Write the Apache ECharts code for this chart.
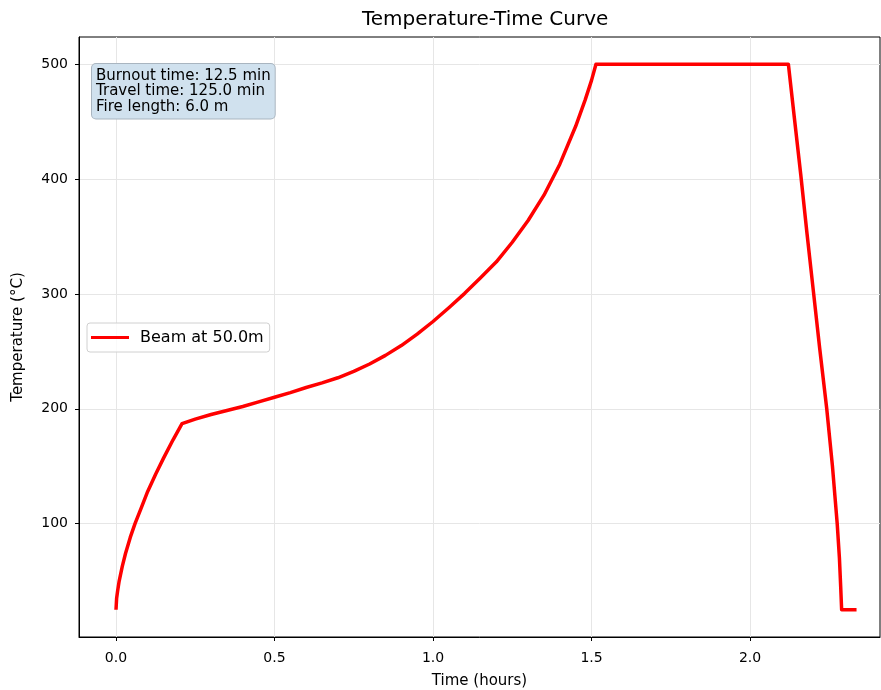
<!DOCTYPE html>
<html>
<head>
<meta charset="utf-8">
<script src="https://cdn.jsdelivr.net/npm/echarts@6/dist/echarts.min.js"></script>
<style>
  html, body { margin: 0; padding: 0; background: #fff; }
  #chart { width: 881px; height: 690px; }
</style>
</head>
<body>
<div id="chart"></div>
<script>
// values
const timeHours = [
  0, 0.002, 0.005, 0.01, 0.02, 0.03, 0.045, 0.06, 0.08, 0.1, 0.125, 0.15, 0.18, 0.2083,
  0.25, 0.3, 0.35, 0.4, 0.45, 0.5, 0.55, 0.6, 0.65, 0.7, 0.75, 0.8, 0.85, 0.9, 0.95,
  1.0, 1.05, 1.1, 1.15, 1.2, 1.25, 1.3, 1.35, 1.4, 1.45, 1.48, 1.5, 1.514,
  2.121, 2.14, 2.16, 2.18, 2.2, 2.22, 2.242, 2.26, 2.275, 2.282, 2.286, 2.289, 2.336
];
const tempC = [
  25, 35, 41, 50, 63, 74, 88, 100, 114, 128, 143, 157, 173, 187,
  191, 195, 198.5, 202, 206, 210, 214, 218.5, 222.5, 227, 232.5, 239, 246.5, 255, 265,
  276, 288, 300.5, 314, 328, 345, 364, 386, 413, 446, 469, 486, 500,
  500, 453, 404, 352, 302, 252, 200, 150, 100, 70, 45, 25, 25
];
const xTicks = [0, 0.5, 1.0, 1.5, 2.0];
const yTicks = [100, 200, 300, 400, 500];
const infoLines = [
  'Burnout time: 12.5 min',
  'Travel time: 125.0 min',
  'Fire length: 6.0 m'
];
const seriesName = 'Beam at 50.0m';

const font = 'DejaVu Sans';
const chart = echarts.init(document.getElementById('chart'), null, { renderer: 'canvas' });

const option = {
  backgroundColor: '#fff',
  animation: false,
  title: {
    text: 'Temperature-Time Curve',
    left: 362,
    top: 10,
    padding: 0,
    textStyle: { fontFamily: font, fontSize: 20, fontWeight: 'normal', color: '#000' }
  },
  grid: {
    left: 79, right: 1, top: 37, bottom: 53,
    outerBoundsMode: 'none',
    containLabel: false,
    show: true, borderColor: '#000', borderWidth: 1, backgroundColor: 'transparent'
  },
  legend: {
    data: [seriesName],
    left: 87,
    top: 323,
    orient: 'vertical',
    icon: 'rect',
    itemWidth: 38,
    itemHeight: 3,
    padding: [6, 6, 6, 4],
    backgroundColor: 'rgba(255,255,255,0.8)',
    borderColor: '#d0d0d0',
    borderWidth: 1,
    borderRadius: 3,
    textStyle: { fontFamily: font, fontSize: 16, color: '#000', padding: [0, 0, 0, 6], lineHeight: 17 }
  },
  xAxis: {
    type: 'value',
    min: -0.1167,
    max: 2.41,
    name: 'Time (hours)',
    nameLocation: 'middle',
    nameGap: 37,
    nameTextStyle: { fontFamily: font, fontSize: 15, color: '#000' },
    axisLine: { onZero: false, lineStyle: { color: '#000', width: 1 } },
    axisTick: { customValues: xTicks, length: 4, lineStyle: { color: '#000' } },
    axisLabel: {
      customValues: xTicks,
      formatter: v => v.toFixed(1),
      fontFamily: font, fontSize: 14, color: '#000', margin: 14
    },
    splitLine: { show: true, lineStyle: { color: '#e6e6e6', width: 1 } }
  },
  yAxis: {
    type: 'value',
    min: 1.25,
    max: 523.75,
    name: 'Temperature (°C)',
    nameLocation: 'middle',
    nameGap: 53,
    nameRotate: 90,
    nameTextStyle: { fontFamily: font, fontSize: 15, color: '#000' },
    axisLine: { show: true, onZero: false, lineStyle: { color: '#000', width: 1 } },
    axisTick: { show: true, customValues: yTicks, length: 4, lineStyle: { color: '#000' } },
    axisLabel: {
      customValues: yTicks,
      fontFamily: font, fontSize: 14, color: '#000', margin: 11
    },
    splitLine: { show: true, lineStyle: { color: '#e6e6e6', width: 1 } }
  },
  graphic: [
    {
      type: 'text',
      left: 91,
      top: 63,
      z: 100,
      style: {
        text: infoLines.join('\n'),
        font: '15px "DejaVu Sans"',
        fill: '#000',
        lineHeight: 15.5,
        backgroundColor: '#d0e1ee',
        borderColor: '#a9b5c0',
        borderWidth: 1,
        borderRadius: 4,
        padding: [4, 4, 4, 4]
      }
    }
  ],
  series: [
    {
      name: seriesName,
      type: 'line',
      data: timeHours.map((t, i) => [t, tempC[i]]),
      showSymbol: false,
      smooth: false,
      color: '#ff0000',
      lineStyle: { color: '#ff0000', width: 3.5, join: 'round' },
      z: 5
    }
  ]
};

chart.setOption(option);
</script>
</body>
</html>
